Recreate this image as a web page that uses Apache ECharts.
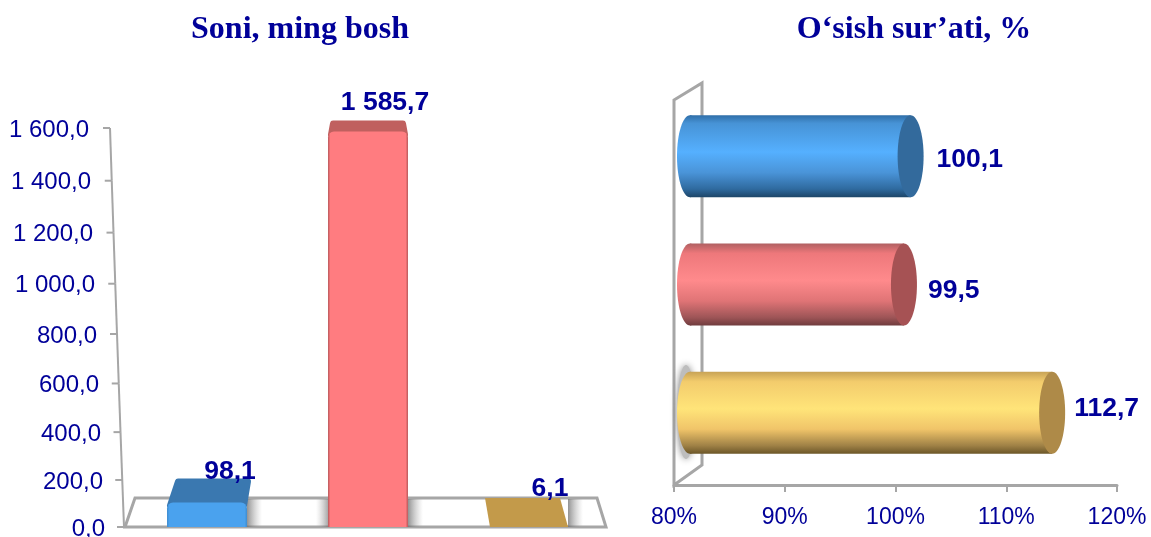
<!DOCTYPE html>
<html>
<head>
<meta charset="utf-8">
<style>html,body{margin:0;padding:0;background:#fff}#c{width:1151px;height:537px}</style>
<script src="https://cdn.jsdelivr.net/npm/echarts@6/dist/echarts.min.js"></script>
</head>
<body>
<div id="c"></div>
<script>
const titles = ["Soni, ming bosh", "O‘sish sur’ati, %"];
const categories = ["A", "B", "C"];
const countValues = [98.1, 1585.7, 6.1];
const countLabels = ["98,1", "1 585,7", "6,1"];
const growthValues = [100.1, 99.5, 112.7];
const growthLabels = ["100,1", "99,5", "112,7"];
const countTicks = [0, 200, 400, 600, 800, 1000, 1200, 1400, 1600];
const countTickLabels = ["0,0", "200,0", "400,0", "600,0", "800,0", "1 000,0", "1 200,0", "1 400,0", "1 600,0"];
const growthTickLabels = ["80%", "90%", "100%", "110%", "120%"];

const NAVY = "#000099", GREY = "#a6a6a6";
const grad = (stops, horizontal) => ({
  type: "linear", x: 0, y: 0, x2: horizontal ? 1 : 0, y2: horizontal ? 0 : 1,
  colorStops: stops.map(s => ({ offset: s[0], color: s[1] }))
});
const t = v => v / 1600;
const sag = v => 26 * t(v) * (1 - t(v));       // perspective bow of the tilted value axis
const slant = v => 16 * t(v);                  // labels lean left as the axis rises
const lineSlant = v => 14 * t(v);

const fronts = ["#4aa2ee", "#ff7c80", "#c39a4a"];
const tops = ["#3a78b0", "#c0605f", "#c39a4a"];
const edges = ["#3f8ccf", "#b8595b", "#c39a4a"];
// top-face shape per bar: offsets of the far corners, near-corner adjustment, depth, corner rounding
const farLeft = [8, 2, -1], farRight = [4, -2, -6], nearLeft = [0, 0, 4], nearRight = [0, 0, 2];
const barDepth = [24, 11, 29], roundness = [6, 6, 0];
const barShift = [1, 2, 0];
const labelDx = [24, 19, 24], labelDy = [-31, -29, -37];

const cyl = [
  { body: [[0,"#2f6ea8"],[.1,"#4793d6"],[.45,"#55b0ff"],[.7,"#4a94d8"],[.9,"#2f6a9f"],[1,"#1d4668"]], end: "#336a9c" },
  { body: [[0,"#b06062"],[.12,"#ee787b"],[.45,"#ff8a8c"],[.7,"#e07476"],[.9,"#9e5557"],[1,"#703c3e"]], end: "#a65254" },
  { body: [[0,"#c8a356"],[.12,"#f3cc6c"],[.45,"#ffe479"],[.7,"#f0c469"],[.9,"#9f8146"],[1,"#6b5628"]], end: "#ae8a48" }
];
const cylEnd = [14, 14, 16], cylLabelDx = [40, 38, 38], cylLabelDy = [4, 6, -4];

function renderFloor(params) {
  const g = params.coordSys, b = g.y + g.height;
  return { type: "polygon", silent: true, shape: { points: [[g.x - 1, b], [g.x + g.width, b], [g.x + g.width - 9, b - 29], [g.x + 9, b - 29]] },
    style: { fill: "#fff", stroke: GREY, lineWidth: 3 } };
}
function renderAxis(params, api) {
  const g = params.coordSys, v = api.value(0), p = api.coord([0, v]), x = g.x - 2 - lineSlant(v), y = p[1] + sag(v);
  const kids = [{ type: "line", shape: { x1: x - 7, y1: y, x2: x, y2: y }, style: { stroke: GREY, lineWidth: 2 } }];
  if (v < 1600) {
    const n = v + 200, q = api.coord([0, n]);
    kids.push({ type: "line", shape: { x1: x, y1: y, x2: g.x - 2 - lineSlant(n), y2: q[1] + sag(n) }, style: { stroke: GREY, lineWidth: 2 } });
  }
  return { type: "group", silent: true, children: kids };
}
function renderBar(params, api) {
  const i = params.dataIndex, top = api.coord([i, api.value(1)]), base = api.coord([i, 0]);
  const w = 80, x = top[0] - w / 2 + barShift[i], h = Math.max(base[1] - top[1], 1.5), yT = base[1] - h, r = roundness[i];
  const q = r / 2, yBack = i === 2 ? base[1] - barDepth[i] : yT - barDepth[i];
  const kids = [
    { type: "rect", shape: { x: x + w + nearRight[i], y: base[1] - 28, width: 15, height: 28 }, style: { fill: grad([[0, "rgba(110,110,110,.75)"], [1, "rgba(170,170,170,0)"]], true) } },
    { type: "rect", shape: { x: x - 12, y: base[1] - 28, width: 12, height: 28 }, style: { fill: grad([[0, "rgba(170,170,170,0)"], [1, "rgba(110,110,110,.6)"]], true), opacity: i === 1 ? 1 : 0 } },
    { type: "polygon", shape: { points: [
        [x + nearLeft[i] + q, i === 2 ? base[1] : yT + q], [x + w + nearRight[i] - q, i === 2 ? base[1] : yT + q],
        [x + w + farRight[i] - q, yBack + q], [x + farLeft[i] + q, yBack + q]] },
      style: { fill: tops[i], stroke: tops[i], lineWidth: r, lineJoin: "round" } },
    { type: "rect", shape: { x: x + nearLeft[i], y: yT, width: w - nearLeft[i] + nearRight[i], height: h, r: i === 2 ? 0 : [6, 6, 0, 0] },
      style: { fill: grad([[0, edges[i]], [.03, fronts[i]], [.97, fronts[i]], [1, edges[i]]], true) } },
    { type: "text", style: { x: top[0] + labelDx[i], y: top[1] + labelDy[i], text: countLabels[i], fill: NAVY, align: "center", verticalAlign: "middle", font: "bold 26.5px 'Liberation Sans'" } }
  ];
  return { type: "group", silent: true, children: kids };
}
function renderWall(params) {
  const g = params.coordSys, l = g.x, b = g.y + g.height, T = g.y, d = 28;
  return { type: "group", silent: true, children: [
    { type: "polygon", shape: { points: [[l, T], [l + d, T - 17], [l + d, b - 20], [l, b]] }, style: { fill: "#fff", stroke: GREY, lineWidth: 3 } },
    { type: "ellipse", shape: { cx: l + 12, cy: 412, rx: 9, ry: 47 }, style: { fill: "#bdbdbd", shadowBlur: 7, shadowColor: "#8c8c8c" } }
  ] };
}
function renderCyl(params, api) {
  const i = params.dataIndex, p = api.coord([api.value(1), i]), base = api.coord([80, i]);
  const rx = 13, ry = 41, cy = p[1] - 8, x0 = base[0] + 16, x1 = p[0] + cylEnd[i], f = grad(cyl[i].body);
  return { type: "group", silent: true, children: [
    { type: "ellipse", shape: { cx: x0, cy, rx, ry }, style: { fill: f } },
    { type: "rect", shape: { x: x0, y: cy - ry, width: x1 - x0, height: 2 * ry }, style: { fill: f } },
    { type: "ellipse", shape: { cx: x1, cy, rx, ry }, style: { fill: cyl[i].end } },
    { type: "text", style: { x: p[0] + cylLabelDx[i], y: cy + cylLabelDy[i], text: growthLabels[i], fill: NAVY, align: "left", verticalAlign: "middle", font: "bold 26.5px 'Liberation Sans'" } }
  ] };
}

const rich = {};
countTicks.forEach((v, i) => {
  rich["p" + i] = { fontFamily: "Liberation Sans", fontSize: 24, color: NAVY, padding: [2 * sag(v) + 4, slant(v), 0, 0] };
});

const chart = echarts.init(document.getElementById("c"), null, { renderer: "canvas" });
chart.setOption({
  animation: false,
  backgroundColor: "#fff",
  title: [
    { text: titles[0], left: 295, top: 9, textAlign: "center", textStyle: { fontFamily: "Liberation Serif", fontWeight: "bold", fontSize: 32, color: NAVY } },
    { text: titles[1], left: 909, top: 9, textAlign: "center", textStyle: { fontFamily: "Liberation Serif", fontWeight: "bold", fontSize: 32, color: NAVY } }
  ],
  grid: [
    { left: 126, top: 128, width: 480, height: 399, outerBoundsMode: "none" },
    { left: 674, top: 100, width: 443, height: 385, outerBoundsMode: "none" }
  ],
  xAxis: [
    { gridIndex: 0, type: "category", data: categories, axisLine: { show: false }, axisTick: { show: false }, axisLabel: { show: false } },
    { gridIndex: 1, type: "value", min: 80, max: 120, interval: 10, splitLine: { show: false },
      axisLine: { show: true, onZero: false, lineStyle: { color: GREY, width: 3 } },
      axisTick: { show: true, length: 7, lineStyle: { color: GREY, width: 2 } },
      axisLabel: { margin: 21, fontFamily: "Liberation Sans", fontSize: 23, color: NAVY, formatter: v => growthTickLabels[(v - 80) / 10] } }
  ],
  yAxis: [
    { gridIndex: 0, type: "value", min: 0, max: 1600, interval: 200, splitLine: { show: false }, axisLine: { show: false }, axisTick: { show: false },
      axisLabel: { margin: 21, align: "right", rich, formatter: v => { const i = countTicks.indexOf(v); return "{p" + i + "|" + countTickLabels[i] + "}"; } } },
    { gridIndex: 1, type: "category", inverse: true, data: categories, axisLine: { show: false }, axisTick: { show: false }, axisLabel: { show: false } }
  ],
  series: [
    { type: "custom", xAxisIndex: 0, yAxisIndex: 0, z: 1, data: [[0, 0]], renderItem: renderFloor },
    { type: "custom", xAxisIndex: 0, yAxisIndex: 0, z: 2, data: countTicks.map(v => [v]), encode: { y: 0 }, renderItem: renderAxis },
    { type: "custom", xAxisIndex: 0, yAxisIndex: 0, z: 3, data: countValues.map((v, i) => [i, v]), encode: { x: 0, y: 1 }, renderItem: renderBar },
    { type: "custom", xAxisIndex: 1, yAxisIndex: 1, z: 1, data: [[80, 0]], renderItem: renderWall },
    { type: "custom", xAxisIndex: 1, yAxisIndex: 1, z: 3, data: growthValues.map((v, i) => [i, v]), encode: { x: 1, y: 0 }, renderItem: renderCyl }
  ]
});
</script>
</body>
</html>
